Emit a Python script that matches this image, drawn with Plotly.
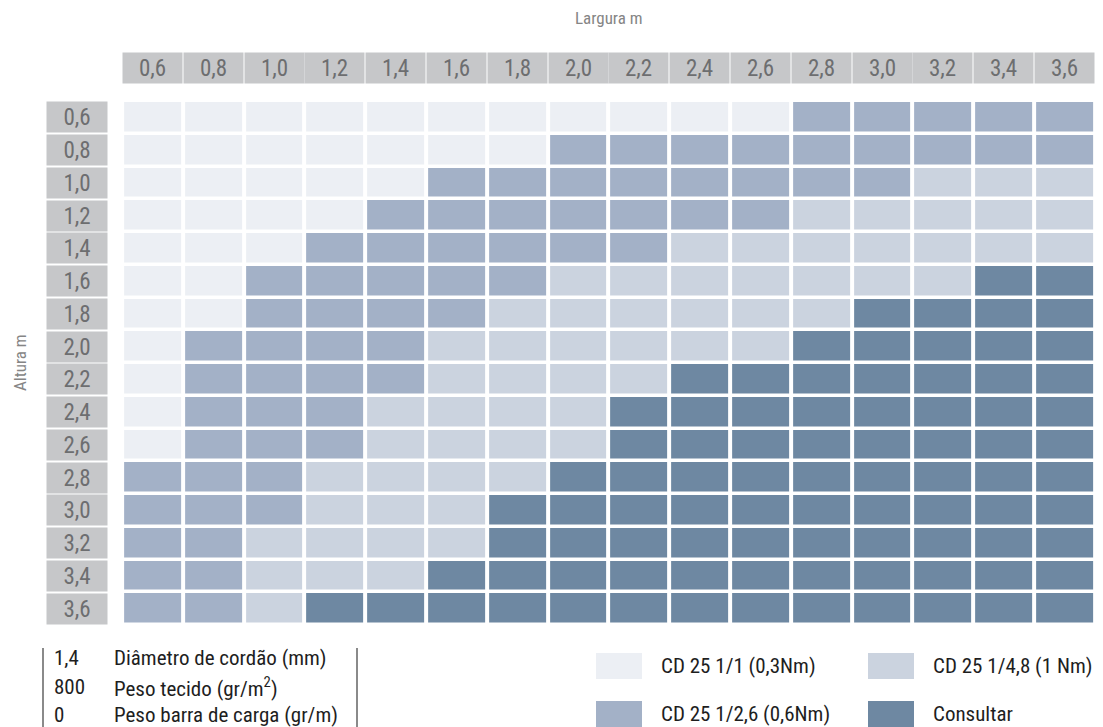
import plotly.graph_objects as go

# Width (columns) and height (rows) in metres
larguras = ["0,6", "0,8", "1,0", "1,2", "1,4", "1,6", "1,8", "2,0",
            "2,2", "2,4", "2,6", "2,8", "3,0", "3,2", "3,4", "3,6"]
alturas = ["0,6", "0,8", "1,0", "1,2", "1,4", "1,6", "1,8", "2,0",
           "2,2", "2,4", "2,6", "2,8", "3,0", "3,2", "3,4", "3,6"]

# Cord types (index used in the table below) and their colours
modelos = ["CD 25 1/1 (0,3Nm)", "CD 25 1/2,6 (0,6Nm)", "CD 25 1/4,8 (1 Nm)", "Consultar"]
cores = ["#eceff4", "#a3b1c7", "#cbd3df", "#6e88a2"]

# Recommended cord for each height (row) x width (column)
tabela = [
    [0, 0, 0, 0, 0, 0, 0, 0, 0, 0, 0, 1, 1, 1, 1, 1],  # 0,6
    [0, 0, 0, 0, 0, 0, 0, 1, 1, 1, 1, 1, 1, 1, 1, 1],  # 0,8
    [0, 0, 0, 0, 0, 1, 1, 1, 1, 1, 1, 1, 1, 2, 2, 2],  # 1,0
    [0, 0, 0, 0, 1, 1, 1, 1, 1, 1, 1, 2, 2, 2, 2, 2],  # 1,2
    [0, 0, 0, 1, 1, 1, 1, 1, 1, 2, 2, 2, 2, 2, 2, 2],  # 1,4
    [0, 0, 1, 1, 1, 1, 1, 2, 2, 2, 2, 2, 2, 2, 3, 3],  # 1,6
    [0, 0, 1, 1, 1, 1, 2, 2, 2, 2, 2, 2, 3, 3, 3, 3],  # 1,8
    [0, 1, 1, 1, 1, 2, 2, 2, 2, 2, 2, 3, 3, 3, 3, 3],  # 2,0
    [0, 1, 1, 1, 1, 2, 2, 2, 2, 3, 3, 3, 3, 3, 3, 3],  # 2,2
    [0, 1, 1, 1, 2, 2, 2, 2, 3, 3, 3, 3, 3, 3, 3, 3],  # 2,4
    [0, 1, 1, 1, 2, 2, 2, 2, 3, 3, 3, 3, 3, 3, 3, 3],  # 2,6
    [1, 1, 1, 2, 2, 2, 2, 3, 3, 3, 3, 3, 3, 3, 3, 3],  # 2,8
    [1, 1, 1, 2, 2, 2, 3, 3, 3, 3, 3, 3, 3, 3, 3, 3],  # 3,0
    [1, 1, 2, 2, 2, 2, 3, 3, 3, 3, 3, 3, 3, 3, 3, 3],  # 3,2
    [1, 1, 2, 2, 2, 3, 3, 3, 3, 3, 3, 3, 3, 3, 3, 3],  # 3,4
    [1, 1, 2, 3, 3, 3, 3, 3, 3, 3, 3, 3, 3, 3, 3, 3],  # 3,6
]

# Specification notes shown under the table
notas_valor = ["1,4", "800", "0"]
notas_texto = ["Diâmetro de cordão (mm)", "Peso tecido (gr/m<sup>2</sup>)", "Peso barra de carga (gr/m)"]

FONT = "Liberation Sans Narrow, Roboto Condensed, DejaVu Sans Condensed, sans-serif"
W, H = 1103, 727
ML, MR, MT, MB = 122, 8, 101, 102
PW, PH = W - ML - MR, H - MT - MB


def px(xp):
    return (xp - ML) / PW


def py(yp):
    return 1 - (yp - MT) / PH


n = len(cores)
escala = []
for i, c in enumerate(cores):
    escala.append([i / n, c])
    escala.append([(i + 1) / n, c])

texto = [[modelos[v] for v in linha] for linha in tabela]

fig = go.Figure(go.Heatmap(
    z=tabela, x=larguras, y=alturas,
    zmin=-0.5, zmax=n - 0.5, colorscale=escala, showscale=False,
    xgap=4, ygap=3.5, text=texto,
    hovertemplate="Largura %{x} m<br>Altura %{y} m<br>%{text}<extra></extra>",
))

anot = []
caixa = "#c6c7c9"
cor_rot = "#6d6e70"
for lg in larguras:
    anot.append(dict(x=lg, xref="x", y=1, yref="paper", yshift=33,
                     xanchor="center", yanchor="middle",
                     text=lg, showarrow=False, width=59, height=30,
                     bgcolor=caixa, borderpad=0, valign="middle",
                     font=dict(family=FONT, size=23, color=cor_rot)))
for al in alturas:
    anot.append(dict(x=0, xref="paper", xshift=-45, y=al, yref="y",
                     xanchor="center", yanchor="middle",
                     text=al, showarrow=False, width=60, height=30,
                     bgcolor=caixa, borderpad=0, valign="middle",
                     font=dict(family=FONT, size=23, color=cor_rot)))

# Axis titles
anot.append(dict(x=0.5, xref="paper", y=1, yref="paper", yshift=83,
                 xanchor="center", yanchor="middle",
                 text="Largura m", showarrow=False,
                 font=dict(family=FONT, size=17, color="#858585")))
anot.append(dict(x=px(20), xref="paper", y=0.5, yref="paper",
                 xanchor="center", yanchor="middle",
                 text="Altura m", textangle=-90, showarrow=False,
                 font=dict(family=FONT, size=17, color="#858585")))

# Notes block
for i, (v, t) in enumerate(zip(notas_valor, notas_texto)):
    yc = py(658 + 28.5 * i)
    anot.append(dict(x=px(52), xref="paper", y=yc, yref="paper",
                     xanchor="left", yanchor="middle",
                     text=v, showarrow=False,
                     font=dict(family=FONT, size=21, color="#1e1e1e")))
    anot.append(dict(x=px(112), xref="paper", y=yc, yref="paper",
                     xanchor="left", yanchor="middle",
                     text=t, showarrow=False,
                     font=dict(family=FONT, size=21, color="#1e1e1e")))

shapes = []
for xl in (43, 357):
    shapes.append(dict(type="line", xref="paper", yref="paper",
                       x0=px(xl), x1=px(xl), y0=py(648), y1=py(727),
                       line=dict(color="#8a8a8a", width=2)))

# Legend: two columns of swatch + label
leg_pos = [(596, 653), (596, 701), (868, 653), (868, 701)]
for k, (x0, y0) in enumerate(leg_pos):
    shapes.append(dict(type="rect", xref="paper", yref="paper",
                       x0=px(x0), x1=px(x0 + 46), y0=py(y0), y1=py(y0 + 26),
                       fillcolor=cores[k], line=dict(width=0)))
    anot.append(dict(x=px(x0 + 63), xref="paper", y=py(y0 + 13), yref="paper",
                     xanchor="left", yanchor="middle",
                     text=modelos[k], showarrow=False,
                     font=dict(family=FONT, size=21, color="#1e1e1e")))

fig.update_layout(
    width=W, height=H,
    margin=dict(l=ML, r=MR, t=MT, b=MB),
    paper_bgcolor="white", plot_bgcolor="white",
    annotations=anot, shapes=shapes,
    xaxis=dict(type="category", showticklabels=False, showgrid=False,
               zeroline=False, ticks=""),
    yaxis=dict(type="category", autorange="reversed", showticklabels=False,
               showgrid=False, zeroline=False, ticks=""),
)

fig.write_html("out.html")
